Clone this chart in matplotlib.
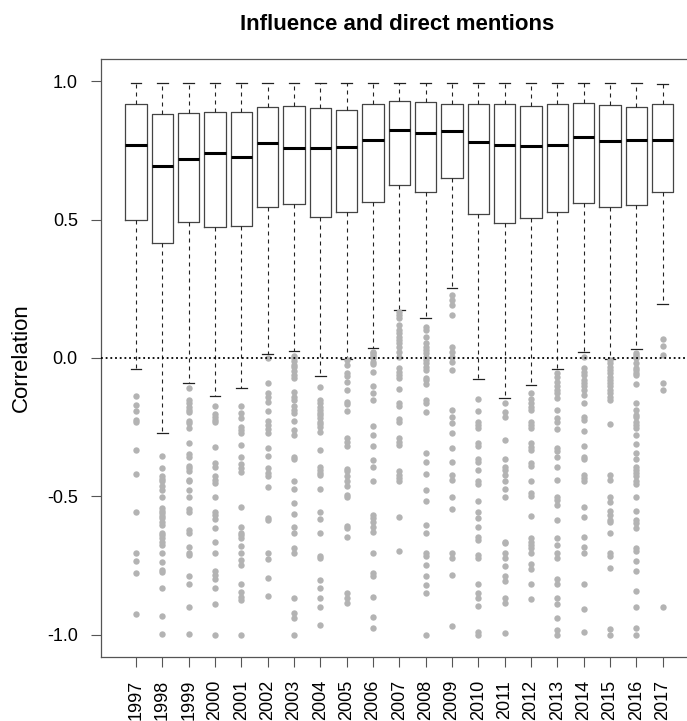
import matplotlib
matplotlib.use('Agg')
import matplotlib.pyplot as plt

plt.rcParams['font.family'] = ['Liberation Sans', 'DejaVu Sans']

years = list(range(1997, 2018))

# box statistics
q1 = [0.497, 0.414, 0.491, 0.473, 0.476, 0.545, 0.555, 0.508, 0.528, 0.563, 0.623,
      0.600, 0.651, 0.520, 0.489, 0.504, 0.528, 0.558, 0.545, 0.551, 0.599]
med = [0.769, 0.694, 0.717, 0.739, 0.726, 0.775, 0.758, 0.757, 0.763, 0.787, 0.823,
       0.813, 0.821, 0.781, 0.769, 0.764, 0.768, 0.798, 0.782, 0.787, 0.789]
q3 = [0.919, 0.883, 0.884, 0.887, 0.888, 0.907, 0.910, 0.904, 0.897, 0.917, 0.928,
      0.926, 0.919, 0.919, 0.919, 0.910, 0.919, 0.922, 0.913, 0.905, 0.919]
whislo = [-0.041, -0.270, -0.091, -0.136, -0.107, 0.016, 0.025, -0.064, -0.005, 0.036, 0.173,
          0.143, 0.253, -0.077, -0.144, -0.096, -0.039, 0.020, -0.003, 0.032, 0.195]
whishi = [0.995, 0.995, 0.995, 0.995, 0.995, 0.995, 0.995, 0.995, 0.995, 0.995, 0.995,
          0.995, 0.995, 0.995, 0.995, 0.995, 0.995, 0.995, 0.995, 0.995, 0.989]

# outlying points per year
outliers = [
    [-0.136, -0.171, -0.190, -0.224, -0.230, -0.332, -0.420, -0.558, -0.703, -0.732, -0.776, -0.924],
    [-0.353, -0.396, -0.428, -0.438, -0.446, -0.464, -0.477, -0.503, -0.543, -0.551, -0.561, -0.570,
     -0.579, -0.591, -0.603, -0.631, -0.639, -0.651, -0.663, -0.675, -0.703, -0.738, -0.765, -0.774,
     -0.830, -0.931, -0.998],
    [-0.109, -0.152, -0.164, -0.176, -0.188, -0.194, -0.226, -0.236, -0.254, -0.308, -0.348, -0.356,
     -0.390, -0.398, -0.407, -0.440, -0.446, -0.477, -0.501, -0.546, -0.555, -0.621, -0.631, -0.681,
     -0.703, -0.711, -0.789, -0.816, -0.898, -0.996],
    [-0.172, -0.202, -0.214, -0.224, -0.233, -0.320, -0.378, -0.392, -0.428, -0.440, -0.450, -0.501,
     -0.555, -0.567, -0.581, -0.615, -0.665, -0.703, -0.768, -0.783, -0.797, -0.830, -0.889, -1.0],
    [-0.172, -0.200, -0.218, -0.250, -0.260, -0.270, -0.316, -0.359, -0.383, -0.398, -0.413, -0.537,
     -0.609, -0.631, -0.639, -0.651, -0.679, -0.703, -0.729, -0.747, -0.816, -0.847, -0.862, -0.876, -1.0],
    [-0.001, -0.091, -0.128, -0.140, -0.158, -0.191, -0.226, -0.242, -0.258, -0.272, -0.326, -0.353,
     -0.396, -0.414, -0.426, -0.467, -0.579, -0.587, -0.703, -0.727, -0.796, -0.858],
    [0.007, -0.001, -0.010, -0.025, -0.034, -0.046, -0.061, -0.073, -0.122, -0.142, -0.152, -0.172,
     -0.188, -0.197, -0.227, -0.260, -0.278, -0.356, -0.366, -0.444, -0.474, -0.525, -0.563, -0.609,
     -0.633, -0.687, -0.705, -0.868, -0.922, -0.940, -1.0],
    [-0.106, -0.152, -0.164, -0.176, -0.188, -0.197, -0.206, -0.218, -0.230, -0.238, -0.250, -0.266,
     -0.332, -0.395, -0.404, -0.416, -0.422, -0.473, -0.555, -0.582, -0.631, -0.715, -0.723, -0.801,
     -0.832, -0.868, -0.901, -0.964],
    [-0.007, -0.025, -0.055, -0.065, -0.085, -0.115, -0.158, -0.166, -0.190, -0.290, -0.302, -0.318,
     -0.402, -0.410, -0.428, -0.446, -0.462, -0.495, -0.503, -0.606, -0.615, -0.647, -0.850, -0.868, -0.886],
    [0.023, 0.019, 0.011, 0.005, -0.001, -0.013, -0.022, -0.050, -0.103, -0.128, -0.152, -0.245,
     -0.278, -0.318, -0.368, -0.395, -0.446, -0.567, -0.579, -0.594, -0.611, -0.627, -0.703, -0.775,
     -0.787, -0.864, -0.936, -0.977],
    [0.167, 0.155, 0.143, 0.119, 0.101, 0.089, 0.077, 0.065, 0.053, 0.039, 0.023, 0.005, -0.037,
     -0.049, -0.061, -0.073, -0.113, -0.164, -0.173, -0.221, -0.230, -0.290, -0.302, -0.314, -0.410,
     -0.422, -0.434, -0.443, -0.576, -0.697],
    [0.113, 0.101, 0.077, 0.053, 0.041, 0.029, 0.017, 0.005, -0.007, -0.019, -0.031, -0.043, -0.073,
     -0.079, -0.094, -0.152, -0.164, -0.194, -0.342, -0.374, -0.420, -0.477, -0.515, -0.603, -0.631,
     -0.703, -0.715, -0.747, -0.789, -0.819, -0.850, -1.0],
    [0.227, 0.209, 0.191, 0.155, 0.041, 0.023, 0.005, -0.013, -0.043, -0.188, -0.212, -0.236, -0.272,
     -0.326, -0.374, -0.422, -0.440, -0.501, -0.546, -0.703, -0.723, -0.783, -0.968],
    [-0.149, -0.190, -0.230, -0.242, -0.254, -0.308, -0.318, -0.366, -0.374, -0.404, -0.446, -0.455,
     -0.515, -0.555, -0.579, -0.609, -0.645, -0.657, -0.711, -0.723, -0.816, -0.850, -0.868, -0.895,
     -0.988, -1.0],
    [-0.161, -0.194, -0.212, -0.296, -0.366, -0.392, -0.404, -0.422, -0.443, -0.474, -0.501, -0.663,
     -0.669, -0.703, -0.723, -0.753, -0.789, -0.807, -0.868, -0.886, -0.994],
    [-0.128, -0.149, -0.164, -0.176, -0.188, -0.230, -0.242, -0.254, -0.308, -0.320, -0.332, -0.378,
     -0.390, -0.443, -0.486, -0.498, -0.570, -0.651, -0.663, -0.675, -0.687, -0.703, -0.744, -0.763,
     -0.816, -0.869],
    [-0.053, -0.067, -0.085, -0.103, -0.115, -0.128, -0.146, -0.188, -0.218, -0.230, -0.258, -0.326,
     -0.335, -0.356, -0.395, -0.440, -0.501, -0.513, -0.531, -0.587, -0.651, -0.675, -0.703, -0.723,
     -0.799, -0.816, -0.868, -0.888, -0.940, -0.982, -1.0],
    [0.005, -0.037, -0.049, -0.061, -0.079, -0.091, -0.103, -0.115, -0.134, -0.161, -0.214, -0.224,
     -0.262, -0.318, -0.356, -0.366, -0.422, -0.434, -0.443, -0.537, -0.576, -0.645, -0.681, -0.703,
     -0.816, -0.907, -0.988],
    [-0.007, -0.019, -0.031, -0.043, -0.055, -0.067, -0.079, -0.091, -0.103, -0.115, -0.128, -0.140,
     -0.152, -0.238, -0.422, -0.440, -0.501, -0.522, -0.551, -0.567, -0.585, -0.594, -0.631, -0.703,
     -0.715, -0.759, -0.980, -1.0],
    [0.017, 0.011, 0.005, -0.001, -0.019, -0.037, -0.043, -0.055, -0.061, -0.094, -0.161, -0.188,
     -0.206, -0.214, -0.230, -0.242, -0.254, -0.278, -0.310, -0.344, -0.366, -0.392, -0.404, -0.416,
     -0.428, -0.446, -0.455, -0.501, -0.552, -0.585, -0.597, -0.615, -0.687, -0.699, -0.732, -0.769,
     -0.840, -0.898, -0.977, -1.0],
    [0.067, 0.043, 0.011, -0.089, -0.116, -0.898],
]

yticks = [-1.0, -0.5, 0.0, 0.5, 1.0]
ytick_labels = ['-1.0', '-0.5', '0.0', '0.5', '1.0']

stats = []
for i, yr in enumerate(years):
    stats.append(dict(label=str(yr), q1=q1[i], med=med[i], q3=q3[i],
                      whislo=whislo[i], whishi=whishi[i], fliers=outliers[i]))

fig = plt.figure(figsize=(6.87, 7.21), dpi=100)
ax = fig.add_axes([0.1466, 0.0888, 0.8694, 0.8294])

ax.bxp(stats, positions=range(1, len(years) + 1), widths=0.8, capwidths=0.4,
       boxprops=dict(color='#444444', lw=0.9),
       medianprops=dict(color='black', lw=2.2, solid_capstyle='butt'),
       whiskerprops=dict(color='#222222', lw=0.8, linestyle=(0, (3.6, 3.6))),
       capprops=dict(color='#222222', lw=0.9),
       flierprops=dict(marker='o', markerfacecolor='#b3b3b3', markeredgecolor='none',
                       markersize=4.6))

# dotted zero line
ax.axhline(0, color='black', lw=1.3, linestyle=(0, (1, 1.6)), zorder=5)

ax.set_xlim(0.5 - 0.84, len(years) + 0.5 + 0.84)
ax.set_ylim(-1.08, 1.08)
ax.set_yticks(yticks)
ax.set_yticklabels(ytick_labels)
ax.set_xticks(range(1, len(years) + 1))
ax.set_xticklabels([str(y) for y in years], rotation=90)

for side in ['left', 'bottom', 'top', 'right']:
    ax.spines[side].set_color('#555555')
    ax.spines[side].set_linewidth(0.9)

ax.tick_params(axis='both', length=7.5, width=0.8, color='#555555', labelsize=13, pad=9)

fig.text(0.578, 1 - 25 / 721, 'Influence and direct mentions', ha='center', va='center',
         fontsize=16, fontweight='bold')
fig.text(21 / 687, 1 - 358 / 721, 'Correlation', ha='center', va='center',
         rotation=90, fontsize=16)

fig.savefig('out.png', dpi=100)
